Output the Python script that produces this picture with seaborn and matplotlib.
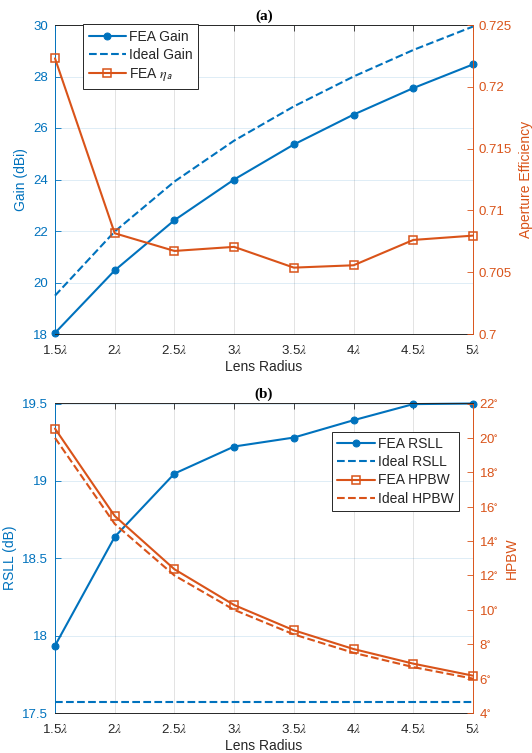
import matplotlib
matplotlib.use("Agg")
import matplotlib.pyplot as plt
import seaborn as sns
import numpy as np

# ---------------- data ----------------
radius = [1.5, 2.0, 2.5, 3.0, 3.5, 4.0, 4.5, 5.0]
radius_labels = ["1.5$\\lambda$", "2$\\lambda$", "2.5$\\lambda$", "3$\\lambda$",
                 "3.5$\\lambda$", "4$\\lambda$", "4.5$\\lambda$", "5$\\lambda$"]

fea_gain = [18.04, 20.47, 22.42, 24.00, 25.36, 26.52, 27.55, 28.47]
ideal_gain = [19.49, 21.98, 23.92, 25.51, 26.84, 28.00, 29.03, 29.94]
fea_eta = [0.7223, 0.70815, 0.70672, 0.70705, 0.70537, 0.70556, 0.70761, 0.70796]

fea_rsll = [17.935, 18.638, 19.047, 19.222, 19.280, 19.392, 19.496, 19.500]
ideal_rsll = [17.57, 17.57, 17.57, 17.57, 17.57, 17.57, 17.57, 17.57]
fea_hpbw = [20.54, 15.46, 12.36, 10.28, 8.81, 7.72, 6.87, 6.17]
ideal_hpbw = [20.0, 15.0, 12.0, 10.0, 8.57, 7.5, 6.67, 6.0]

gain_ticks = [18, 20, 22, 24, 26, 28, 30]
eta_ticks = [0.7, 0.705, 0.71, 0.715, 0.72, 0.725]
eta_tick_labels = ["0.7", "0.705", "0.71", "0.715", "0.72", "0.725"]
rsll_ticks = [17.5, 18, 18.5, 19, 19.5]
rsll_tick_labels = ["17.5", "18", "18.5", "19", "19.5"]
hpbw_ticks = [4, 6, 8, 10, 12, 14, 16, 18, 20, 22]
hpbw_tick_labels = [f"{v}$^{{\\circ}}$" for v in hpbw_ticks]

# ---------------- style ----------------
sns.set_theme(style="white")
plt.rcParams['font.family'] = ['Liberation Sans', 'DejaVu Sans']
plt.rcParams['mathtext.fontset'] = 'stix'

BLUE = "#0072BD"
ORANGE = "#D95319"
DARK = "#262626"

fig = plt.figure(figsize=(5.32, 7.53), dpi=100)
W, H = 532, 753


def axes_px(left, top, right, bottom):
    return fig.add_axes([left / W, 1 - bottom / H, (right - left) / W, (bottom - top) / H])


def style_axes(ax, ax2, ylim_l, ylim_r):
    ax.set_xlim(1.5, 5.0)
    ax.set_ylim(*ylim_l)
    ax2.set_ylim(*ylim_r)
    ax.set_xticks(radius)
    ax.set_xticklabels(radius_labels)
    ax.tick_params(axis='x', direction='in', length=4, width=0.6, colors=DARK,
                   labelsize=9.5, top=True, pad=7)
    ax.tick_params(axis='y', direction='in', length=4, width=0.6, colors=BLUE,
                   labelsize=9.5, pad=5)
    ax2.tick_params(axis='y', direction='in', length=4, width=0.6, colors=ORANGE,
                    labelsize=9.5, pad=4)
    for ticklabel in ax.get_xticklabels():
        ticklabel.set_color(DARK)
    ax.xaxis.grid(True, color="#262626", alpha=0.15, linewidth=0.6)
    ax.yaxis.grid(True, color=BLUE, alpha=0.15, linewidth=0.6)
    ax.set_axisbelow(True)
    for sp in ['top', 'bottom']:
        ax.spines[sp].set_color(DARK)
        ax.spines[sp].set_linewidth(0.7)
        ax2.spines[sp].set_visible(False)
    ax.spines['left'].set_color(BLUE)
    ax.spines['left'].set_linewidth(0.7)
    ax.spines['right'].set_visible(False)
    ax2.spines['left'].set_visible(False)
    ax2.spines['right'].set_color(ORANGE)
    ax2.spines['right'].set_linewidth(0.7)
    ax2.spines['right'].set_visible(True)
    ax.set_xlabel("Lens Radius", fontsize=10, color=DARK, labelpad=2)


line_kw = dict(linewidth=1.5, clip_on=False, legend=False)

# ---------------- panel (a) ----------------
axA = axes_px(55, 25, 473, 334)
axA2 = axA.twinx()

sns.lineplot(x=radius, y=fea_gain, ax=axA, color=BLUE, marker='o', markersize=5,
             markeredgecolor=BLUE, label="FEA Gain", **line_kw)
sns.lineplot(x=radius, y=ideal_gain, ax=axA, color=BLUE, linestyle='--',
             label="Ideal Gain", **line_kw)
sns.lineplot(x=radius, y=fea_eta, ax=axA2, color=ORANGE, marker='s', markersize=6,
             markerfacecolor='none', markeredgecolor=ORANGE, markeredgewidth=1.1,
             label="FEA $\\eta_{\\mathsf{a}}$", **line_kw)

style_axes(axA, axA2, (18, 30), (0.7, 0.725))
axA.set_yticks(gain_ticks)
axA.set_yticklabels([str(v) for v in gain_ticks])
axA2.set_yticks(eta_ticks)
axA2.set_yticklabels(eta_tick_labels)
axA.set_ylabel("Gain (dBi)", fontsize=10, color=BLUE, labelpad=4)
axA2.set_ylabel("Aperture Efficiency", fontsize=10, color=ORANGE, rotation=90,
                labelpad=5)
axA.set_title("(a)", fontsize=11, fontweight='bold', family='Liberation Serif',
              color='black', pad=4)

hA, lA = axA.get_legend_handles_labels()
hA2, lA2 = axA2.get_legend_handles_labels()
legA = axA2.legend(hA + hA2, lA + lA2, loc='upper left',
                   bbox_to_anchor=(28 / 418, 1.003), fontsize=10,
                   handlelength=2.7, handletextpad=0.2, labelspacing=0.3,
                   borderpad=0.4, borderaxespad=0, fancybox=False,
                   framealpha=1, edgecolor=DARK)
legA.get_frame().set_linewidth(0.7)

# ---------------- panel (b) ----------------
axB = axes_px(55, 403.5, 473, 713)
axB2 = axB.twinx()

sns.lineplot(x=radius, y=fea_rsll, ax=axB, color=BLUE, marker='o', markersize=5,
             markeredgecolor=BLUE, label="FEA RSLL", **line_kw)
sns.lineplot(x=radius, y=ideal_rsll, ax=axB, color=BLUE, linestyle='--',
             label="Ideal RSLL", **line_kw)
sns.lineplot(x=radius, y=fea_hpbw, ax=axB2, color=ORANGE, marker='s', markersize=6,
             markerfacecolor='none', markeredgecolor=ORANGE, markeredgewidth=1.1,
             label="FEA HPBW", **line_kw)
sns.lineplot(x=radius, y=ideal_hpbw, ax=axB2, color=ORANGE, linestyle='--',
             label="Ideal HPBW", **line_kw)

style_axes(axB, axB2, (17.5, 19.5), (4, 22))
axB.set_yticks(rsll_ticks)
axB.set_yticklabels(rsll_tick_labels)
axB2.set_yticks(hpbw_ticks)
axB2.set_yticklabels(hpbw_tick_labels)
axB.set_ylabel("RSLL (dB)", fontsize=10, color=BLUE, labelpad=4)
axB2.set_ylabel("HPBW", fontsize=10, color=ORANGE, rotation=90, labelpad=5)
axB.set_title("(b)", fontsize=11, fontweight='bold', family='Liberation Serif',
              color='black', pad=4)

hB, lB = axB.get_legend_handles_labels()
hB2, lB2 = axB2.get_legend_handles_labels()
legB = axB2.legend(hB + hB2, lB + lB2, loc='upper right',
                   bbox_to_anchor=((459 - 55) / 418, 1 - 28 / 309.5), fontsize=10,
                   handlelength=2.7, handletextpad=0.2, labelspacing=0.3,
                   borderpad=0.4, borderaxespad=0, fancybox=False,
                   framealpha=1, edgecolor=DARK)
legB.get_frame().set_linewidth(0.7)

fig.savefig("out.png", dpi=100, facecolor='white')
